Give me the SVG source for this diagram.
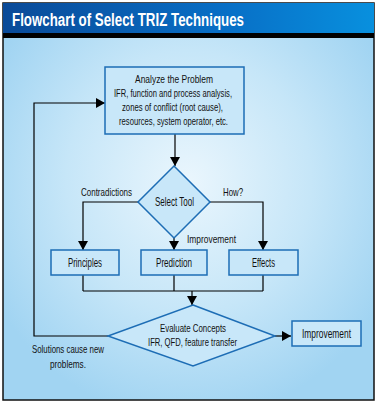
<svg xmlns="http://www.w3.org/2000/svg" width="377" height="403" viewBox="0 0 377 403">
<defs>
<linearGradient id="tg" x1="0" y1="0" x2="1" y2="0">
<stop offset="0" stop-color="#0a4a98"/>
<stop offset="0.6" stop-color="#086fc6"/>
<stop offset="1" stop-color="#0890de"/>
</linearGradient>
<radialGradient id="bg" cx="0.5" cy="0.45" r="0.6">
<stop offset="0" stop-color="#eaf6fd"/>
<stop offset="0.55" stop-color="#c6e6f8"/>
<stop offset="1" stop-color="#a1d4f2"/>
</radialGradient>
<marker id="ah" markerUnits="userSpaceOnUse" markerWidth="10" markerHeight="10" refX="9" refY="5" orient="auto">
<path d="M0,0 L9,5 L0,10 Z" fill="#000"/>
</marker>
<style>
.t{font-family:"Liberation Sans",Arial,sans-serif;font-size:10.5px;fill:#111;text-anchor:middle}
.b{font-size:12.5px}
.s{font-size:10px}
.node{fill:#c8e7f9;stroke:#1d6db5;stroke-width:1.5}
.c{fill:none;stroke:#000;stroke-width:1.2}
.ca{fill:none;stroke:#000;stroke-width:1.2;marker-end:url(#ah)}
</style>
</defs>
<rect x="3" y="3" width="371" height="397" fill="url(#bg)" stroke="#111" stroke-width="1.5"/>
<rect x="3" y="3" width="371" height="30" fill="url(#tg)"/>
<rect x="3" y="33" width="371" height="5" fill="#000"/>
<text x="12" y="26" textLength="232" lengthAdjust="spacingAndGlyphs" style="font-family:'Liberation Sans',Arial,sans-serif;font-weight:bold;font-size:18px;fill:#fff">Flowchart of Select TRIZ Techniques</text>

<g id="connectors">
<path class="ca" d="M175,134 V166"/>
<path class="ca" d="M138,202 H83 V250"/>
<path class="ca" d="M210,202 H263 V250"/>
<path class="ca" d="M174,238 V250"/>
<path class="c" d="M83,275 V291 M174,275 V291 M263,275 V291 M83,291 H263"/>
<path class="ca" d="M192,291 V305"/>
<path class="ca" d="M275,336 H291"/>
<path class="ca" d="M108,336 H34 V103 H105"/>
</g>

<g id="analyze">
<rect class="node" x="105" y="67" width="139" height="67"/>
<text class="t s" x="174" y="83" textLength="78" lengthAdjust="spacingAndGlyphs">Analyze the Problem</text>
<text class="t s" x="173" y="97" textLength="118" lengthAdjust="spacingAndGlyphs">IFR, function and process analysis,</text>
<text class="t s" x="172.5" y="111" textLength="101" lengthAdjust="spacingAndGlyphs">zones of conflict (root cause),</text>
<text class="t s" x="173.5" y="125" textLength="109" lengthAdjust="spacingAndGlyphs">resources, system operator, etc.</text>
</g>

<g id="select">
<polygon class="node" points="174,166 210,202 174,238 138,202"/>
<text class="t" x="174.5" y="206" style="font-size:12px" textLength="39" lengthAdjust="spacingAndGlyphs">Select Tool</text>
</g>

<g id="labels">
<text class="t" x="106.5" y="196" textLength="51" lengthAdjust="spacingAndGlyphs">Contradictions</text>
<text class="t" x="233" y="196" textLength="20" lengthAdjust="spacingAndGlyphs">How?</text>
<text class="t" x="211.5" y="243" textLength="49" lengthAdjust="spacingAndGlyphs">Improvement</text>
<text class="t" x="68" y="353" style="font-size:11px" textLength="72" lengthAdjust="spacingAndGlyphs">Solutions cause new</text>
<text class="t" x="68" y="368" style="font-size:11px" textLength="36" lengthAdjust="spacingAndGlyphs">problems.</text>
</g>

<g id="principles">
<rect class="node" x="51" y="250" width="68" height="25"/>
<text class="t b" x="85" y="267" textLength="34" lengthAdjust="spacingAndGlyphs">Principles</text>
</g>
<g id="prediction">
<rect class="node" x="141" y="250" width="66" height="25"/>
<text class="t b" x="174" y="267" textLength="36" lengthAdjust="spacingAndGlyphs">Prediction</text>
</g>
<g id="effects">
<rect class="node" x="229" y="250" width="69" height="25"/>
<text class="t b" x="263.5" y="267" textLength="23" lengthAdjust="spacingAndGlyphs">Effects</text>
</g>

<g id="evaluate">
<polygon class="node" points="193,305 275,336 193,366 108,336"/>
<text class="t" x="193" y="332" textLength="66" lengthAdjust="spacingAndGlyphs">Evaluate Concepts</text>
<text class="t" x="192.5" y="346" textLength="89" lengthAdjust="spacingAndGlyphs">IFR, QFD, feature transfer</text>
</g>

<g id="improvement">
<rect class="node" x="292" y="321" width="69" height="25"/>
<text class="t b" x="326.5" y="338" textLength="49" lengthAdjust="spacingAndGlyphs">Improvement</text>
</g>
</svg>
